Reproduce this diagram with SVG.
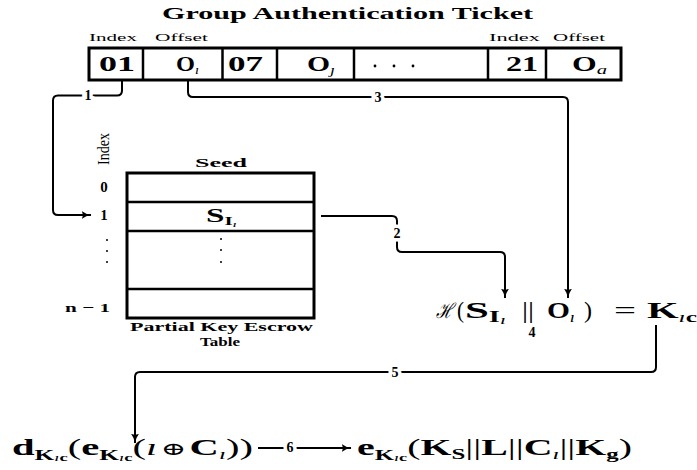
<svg xmlns="http://www.w3.org/2000/svg" width="697" height="470" viewBox="0 0 697 470">
  <style>
    text { font-family: "Liberation Serif", "DejaVu Serif", serif; fill: #000; }
    .b { font-weight: bold; }
    .i { font-style: italic; font-weight: normal; }
    .small { font-size: 11px; }
    .cell { font-size: 20px; font-weight: bold; }
    .frame { fill: #fff; stroke: #000; stroke-width: 3; }
    .div { stroke: #000; stroke-width: 2.5; }
    .conn { fill: none; stroke: #000; stroke-width: 2; }
    .lbl { font-size: 14px; font-weight: bold; text-anchor: middle; stroke: #fff; stroke-width: 7; paint-order: stroke; }
    .math { font-size: 24px; }
    .dot { fill: #000; }
  </style>
  <defs>
    <marker id="arrow" viewBox="0 0 10 10" refX="9.5" refY="5" markerWidth="10" markerHeight="10" markerUnits="userSpaceOnUse" orient="auto">
      <path d="M0,0.8 Q4,4.2 10,5 Q4,5.8 0,9.2 Q2.5,5 0,0.8 Z" fill="#000"/>
    </marker>
  </defs>

  <!-- title -->
  <text id="title" class="b" x="162" y="19" font-size="17" textLength="371" lengthAdjust="spacingAndGlyphs">Group Authentication Ticket</text>

  <!-- ticket -->
  <g id="ticket">
    <text class="small" x="89" y="41" textLength="48" lengthAdjust="spacingAndGlyphs">Index</text>
    <text class="small" x="155" y="41" textLength="53" lengthAdjust="spacingAndGlyphs">Offset</text>
    <text class="small" x="489" y="41" textLength="51" lengthAdjust="spacingAndGlyphs">Index</text>
    <text class="small" x="553" y="41" textLength="52" lengthAdjust="spacingAndGlyphs">Offset</text>
    <rect class="frame" x="89" y="48" width="532" height="32"/>
    <line class="div" x1="143" y1="48" x2="143" y2="80"/>
    <line class="div" x1="222.5" y1="48" x2="222.5" y2="80"/>
    <line class="div" x1="277" y1="48" x2="277" y2="80"/>
    <line class="div" x1="354" y1="48" x2="354" y2="80"/>
    <line class="div" x1="488" y1="48" x2="488" y2="80"/>
    <line class="div" x1="546" y1="48" x2="546" y2="80"/>
    <text class="cell" x="99" y="71" textLength="36" lengthAdjust="spacingAndGlyphs">01</text>
    <text class="b" x="176" y="71" font-size="20" textLength="23" lengthAdjust="spacingAndGlyphs">O<tspan class="i" font-size="12" dy="3">ı</tspan></text>
    <text class="cell" x="228" y="71" textLength="35" lengthAdjust="spacingAndGlyphs">07</text>
    <text class="b" x="307" y="71" font-size="20" textLength="28" lengthAdjust="spacingAndGlyphs">O<tspan class="i" font-size="12" dy="3">ȷ</tspan></text>
    <circle class="dot" cx="375" cy="66" r="1.4"/>
    <circle class="dot" cx="394" cy="66" r="1.4"/>
    <circle class="dot" cx="413" cy="66" r="1.4"/>
    <text class="cell" x="506" y="71" textLength="32" lengthAdjust="spacingAndGlyphs">21</text>
    <text class="b" x="572" y="71" font-size="20" textLength="35" lengthAdjust="spacingAndGlyphs">O<tspan class="i" font-size="13" dy="3">a</tspan></text>
  </g>

  <!-- partial key escrow table -->
  <g id="escrow-table">
    <text x="109" y="165" font-size="16" transform="rotate(-90 109 165)" textLength="32" lengthAdjust="spacingAndGlyphs">Index</text>
    <text class="b" x="195" y="167" font-size="13" textLength="52" lengthAdjust="spacingAndGlyphs">Seed</text>
    <rect class="frame" x="127" y="173" width="187" height="145"/>
    <line class="div" x1="127" y1="202" x2="314" y2="202"/>
    <line class="div" x1="127" y1="231" x2="314" y2="231"/>
    <line class="div" x1="127" y1="289" x2="314" y2="289"/>
    <text class="b" x="104" y="192" font-size="15" text-anchor="middle">0</text>
    <text class="b" x="104" y="220" font-size="15" text-anchor="middle">1</text>
    <circle class="dot" cx="107" cy="240" r="1"/>
    <circle class="dot" cx="107" cy="251" r="1"/>
    <circle class="dot" cx="107" cy="262" r="1"/>
    <text class="b" x="65" y="312" font-size="13" textLength="45" lengthAdjust="spacingAndGlyphs">n − 1</text>
    <text class="b" x="206" y="222" font-size="19" textLength="31" lengthAdjust="spacingAndGlyphs">S<tspan font-size="12" dy="3">I</tspan><tspan class="i" font-size="9" dy="2">ı</tspan></text>
    <circle class="dot" cx="221" cy="239" r="1"/>
    <circle class="dot" cx="221" cy="250" r="1"/>
    <circle class="dot" cx="221" cy="262" r="1"/>
    <text class="b" x="130" y="331" font-size="13" textLength="183" lengthAdjust="spacingAndGlyphs">Partial Key Escrow</text>
    <text class="b" x="200" y="346" font-size="13" textLength="40" lengthAdjust="spacingAndGlyphs">Table</text>
  </g>

  <!-- hash of seed and offset -->
  <g id="hash" class="math">
    <text x="436" y="318" font-size="21" class="i" font-family="DejaVu Serif, serif" textLength="17" lengthAdjust="spacingAndGlyphs">ℋ</text>
    <text x="457" y="318" textLength="7" lengthAdjust="spacingAndGlyphs">(</text>
    <text class="b" x="465" y="318" textLength="41" lengthAdjust="spacingAndGlyphs">S<tspan font-size="16" dy="4">I</tspan><tspan class="i" font-size="12" dy="2">ı</tspan></text>
    <text x="522" y="318" textLength="12" lengthAdjust="spacingAndGlyphs">||</text>
    <text class="b" x="547" y="318" textLength="28" lengthAdjust="spacingAndGlyphs">O<tspan class="i" font-size="15" dy="4">ı</tspan></text>
    <text x="584" y="318" textLength="8" lengthAdjust="spacingAndGlyphs">)</text>
    <text x="614" y="318" textLength="22" lengthAdjust="spacingAndGlyphs">=</text>
    <text class="b" x="647" y="318" textLength="50" lengthAdjust="spacingAndGlyphs">K<tspan class="i" font-size="15" dy="4">ı</tspan><tspan font-size="15">c</tspan></text>
  </g>

  <!-- decryption step -->
  <g id="decrypt" class="math">
    <text x="12" y="455" textLength="241" lengthAdjust="spacingAndGlyphs"><tspan class="b">d</tspan><tspan class="b" font-size="15" dy="5">K</tspan><tspan class="i" font-size="11" dy="1">ı</tspan><tspan class="b" font-size="11">c</tspan><tspan dy="-6">(</tspan><tspan class="b">e</tspan><tspan class="b" font-size="15" dy="5">K</tspan><tspan class="i" font-size="11" dy="1">ı</tspan><tspan class="b" font-size="11">c</tspan><tspan dy="-6">(</tspan><tspan class="i">ı</tspan><tspan dx="2" font-size="18">⊕</tspan><tspan class="b" dx="2">C</tspan><tspan class="i" font-size="15" dy="4">ı</tspan><tspan dy="-4">))</tspan></text>
  </g>

  <!-- ticket encrypted under the derived key -->
  <g id="ticket-encrypted" class="math">
    <text x="357" y="455" textLength="275" lengthAdjust="spacingAndGlyphs"><tspan class="b">e</tspan><tspan class="b" font-size="15" dy="5">K</tspan><tspan class="i" font-size="11" dy="1">ı</tspan><tspan class="b" font-size="11">c</tspan><tspan dy="-6">(</tspan><tspan class="b">K</tspan><tspan class="b" font-size="15" dy="4">S</tspan><tspan dy="-4">||</tspan><tspan class="b">L</tspan><tspan>||</tspan><tspan class="b">C</tspan><tspan class="i" font-size="15" dy="4">ı</tspan><tspan dy="-4">||</tspan><tspan class="b">K</tspan><tspan class="b" font-size="15" dy="4">g</tspan><tspan dy="-4">)</tspan></text>
  </g>

  <!-- connectors -->
  <g id="connectors">
    <path class="conn" d="M122,80 V90.5 Q122,95.5 117,95.5 H58 Q53,95.5 53,100.5 V210 Q53,215 58,215 H91" marker-end="url(#arrow)"/>
    <text class="lbl" x="88" y="100">1</text>
    <path class="conn" d="M188,80 V92 Q188,97 193,97 H563 Q568,97 568,102 V298" marker-end="url(#arrow)"/>
    <text class="lbl" x="378" y="102">3</text>
    <path class="conn" d="M321,216 H392 Q397,216 397,221 V247 Q397,252 402,252 H500 Q505,252 505,257 V298" marker-end="url(#arrow)"/>
    <text class="lbl" x="397" y="238">2</text>
    <text class="b" x="532" y="337" font-size="14" text-anchor="middle">4</text>
    <path class="conn" d="M656,325 V367 Q656,372 651,372 H140 Q135,372 135,377 V443" marker-end="url(#arrow)"/>
    <text class="lbl" x="395" y="377">5</text>
    <path class="conn" d="M258,448 H351" marker-end="url(#arrow)"/>
    <text class="lbl" x="290" y="452" font-size="11">6</text>
  </g>
</svg>
